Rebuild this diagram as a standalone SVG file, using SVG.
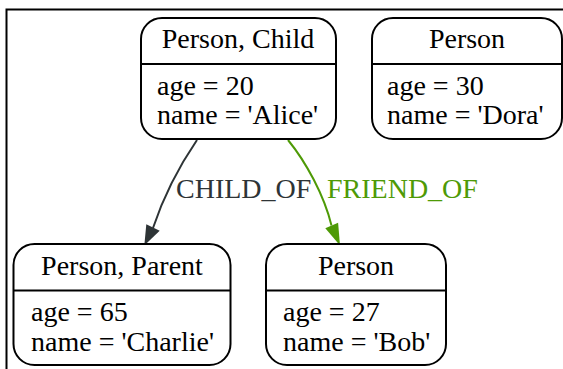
<svg xmlns="http://www.w3.org/2000/svg" width="563" height="369" viewBox="0 0 563 369">
  <defs>
    <style>
      .box { fill: #ffffff; stroke: #000000; stroke-width: 2; }
      .sep { stroke: #000000; stroke-width: 2; }
      .t { font-family: "Liberation Serif", "Times New Roman", serif; font-size: 28px; fill: #000000; }
      .hd { text-anchor: middle; }
      .lbl { font-family: "Liberation Serif", "Times New Roman", serif; font-size: 28px; }
      .e-child { fill: none; stroke: #2e3436; stroke-width: 2; }
      .e-friend { fill: none; stroke: #4e9a06; stroke-width: 2; }
    </style>
  </defs>

  <!-- frame -->
  <path d="M6.5,369 V9.5 H563" fill="none" stroke="#000" stroke-width="2"/>

  <!-- connectors -->
  <g id="edges">
    <g id="edge-child-of">
      <path class="e-child" d="M197,140 C182,162 164,195 153,228"/>
      <path d="M144.3,245.5 L146.3,224.2 L159.7,230.8 z" fill="#2e3436"/>
      <text class="lbl" x="176" y="198" fill="#2e3436">CHILD_OF</text>
    </g>
    <g id="edge-friend-of">
      <path class="e-friend" d="M288,140 C306,162 324,195 331.5,225.5"/>
      <path d="M340,245.5 L325.3,228.2 L338.1,222.8 z" fill="#4e9a06"/>
      <text class="lbl" x="327" y="198" fill="#4e9a06">FRIEND_OF</text>
    </g>
  </g>

  <!-- nodes -->
  <g id="node-alice">
    <rect class="box" x="141" y="18" width="195" height="121" rx="21"/>
    <line class="sep" x1="141" y1="64" x2="336" y2="64"/>
    <text class="t hd" x="238" y="48">Person, Child</text>
    <text class="t" x="157" y="95">age = 20</text>
    <text class="t" x="157" y="124">name = 'Alice'</text>
  </g>

  <g id="node-dora">
    <rect class="box" x="372" y="18" width="190" height="121" rx="21"/>
    <line class="sep" x1="372" y1="64" x2="562" y2="64"/>
    <text class="t hd" x="467" y="48">Person</text>
    <text class="t" x="387" y="95">age = 30</text>
    <text class="t" x="387" y="124">name = 'Dora'</text>
  </g>

  <g id="node-charlie">
    <rect class="box" x="13.5" y="244" width="217" height="121" rx="21"/>
    <line class="sep" x1="13.5" y1="290.5" x2="230.5" y2="290.5"/>
    <text class="t hd" x="122" y="275">Person, Parent</text>
    <text class="t" x="31" y="321">age = 65</text>
    <text class="t" x="31" y="351">name = 'Charlie'</text>
  </g>

  <g id="node-bob">
    <rect class="box" x="266" y="244" width="180" height="121" rx="21"/>
    <line class="sep" x1="266" y1="290.5" x2="446" y2="290.5"/>
    <text class="t hd" x="356" y="275">Person</text>
    <text class="t" x="283" y="321">age = 27</text>
    <text class="t" x="283" y="351">name = 'Bob'</text>
  </g>
</svg>
